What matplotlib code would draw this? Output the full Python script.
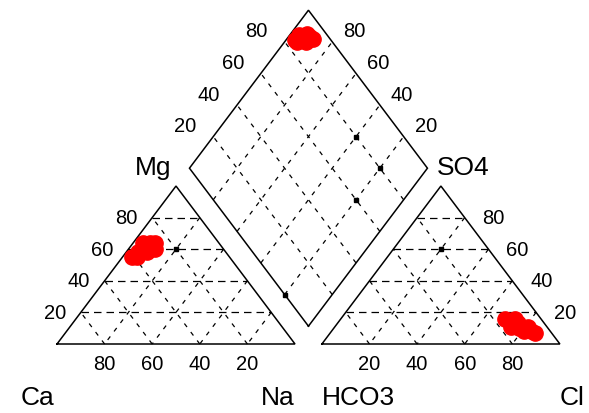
import numpy as np
import matplotlib
matplotlib.use("Agg")
import matplotlib.pyplot as plt

plt.rcParams['font.family'] = ['Liberation Sans', 'DejaVu Sans']

# cation shares (% meq) per sample
na = [4, 5, 7, 7, 9, 11, 9, 8, 4, 6]
mg = [55, 58, 60, 64, 64, 60, 58, 62, 64, 55]
ca = [100 - m - n for m, n in zip(mg, na)]
# anion shares (% meq) per sample
hco3 = [15, 15, 11, 8, 11, 7, 8, 11, 12, 12]
so4 = [16, 11, 13, 11, 8, 7, 8, 16, 15, 10]
cl = [69, 74, 76, 81, 81, 86, 84, 73, 73, 78]

grid_levels = [20, 40, 60, 80]
cation_labels = ["Ca", "Mg", "Na"]
anion_labels = ["HCO3", "SO4", "Cl"]

# heavy spots left where dashed grid lines overlap
overlap_cation = [(60, 20)]            # (Mg, Na)
overlap_anion = [(60, 20)]             # (SO4, Cl)
overlap_diamond = [(40, 80), (20, 80), (20, 60), (20, 0)]  # (Ca+Mg, SO4+Cl)

GAP = 0.113
H = np.sqrt(3) / 2


def cation_xy(mg_, na_):
    mg_, na_ = np.asarray(mg_, float), np.asarray(na_, float)
    return (na_ + mg_ / 2) / 100, H * mg_ / 100


def anion_xy(so4_, cl_):
    so4_, cl_ = np.asarray(so4_, float), np.asarray(cl_, float)
    return 1 + GAP + (cl_ + so4_ / 2) / 100, H * so4_ / 100


def diamond_xy(cx, cy, ax_, ay):
    t = (ax_ - cx) + (ay - cy) / (2 * H)
    return cx + 0.5 * t, cy + H * t


D_BOT = np.array([1 + GAP / 2, GAP * H])
D_LEFT = np.array([0.5 + GAP / 2, H + GAP * H])
D_TOP = np.array([1 + GAP / 2, 2 * H + GAP * H])
D_RIGHT = np.array([1.5 + GAP / 2, H + GAP * H])


def diamond_ab(a, b):
    a, b = a / 100, b / 100
    return D_BOT + a * (D_LEFT - D_BOT) + b * (D_RIGHT - D_BOT)


fig = plt.figure(figsize=(5.89, 4.14), dpi=100)
ax = fig.add_axes([0, 0, 1, 1])
ax.set_xlim(-57 / 238, 532 / 238)
ax.set_ylim(-69 / 182.4, 345 / 182.4)
ax.axis("off")

outline = dict(color="black", lw=1.1, solid_joinstyle="miter")
hdash = dict(color="black", lw=0.9, ls=(0, (6, 4)))
sdash = dict(color="black", lw=0.9, ls=(0, (3.5, 5)))


def draw_triangle(A, B, C):
    A, B, C = map(np.array, (A, B, C))
    pts = np.array([A, B, C, A])
    ax.plot(pts[:, 0], pts[:, 1], **outline)
    for v in grid_levels:
        f = v / 100
        for i, (P, Q, R) in enumerate(((A, B, C), (B, C, A), (C, A, B))):
            p1 = P + f * (R - P)
            p2 = Q + f * (R - Q)
            ax.plot([p1[0], p2[0]], [p1[1], p2[1]], **(hdash if i == 0 else sdash))


# left (cation) and right (anion) triangles
A1, B1, C1 = (0, 0), (1, 0), (0.5, H)
A2, B2, C2 = (1 + GAP, 0), (2 + GAP, 0), (1.5 + GAP, H)
draw_triangle(A1, B1, C1)
draw_triangle(A2, B2, C2)

# central diamond
dpts = np.array([D_BOT, D_LEFT, D_TOP, D_RIGHT, D_BOT])
ax.plot(dpts[:, 0], dpts[:, 1], **outline)
for v in grid_levels:
    p1, p2 = diamond_ab(v, 0), diamond_ab(v, 100)
    ax.plot([p1[0], p2[0]], [p1[1], p2[1]], **sdash)
    p1, p2 = diamond_ab(0, v), diamond_ab(100, v)
    ax.plot([p1[0], p2[0]], [p1[1], p2[1]], **sdash)

# overlap spots
ox, oy = cation_xy([m for m, _ in overlap_cation], [n for _, n in overlap_cation])
ax.plot(ox, oy, "ks", ms=2.6)
ox, oy = anion_xy([s for s, _ in overlap_anion], [c for _, c in overlap_anion])
ax.plot(ox, oy, "ks", ms=2.6)
for a, b in overlap_diamond:
    p = diamond_ab(a, b)
    ax.plot(p[0], p[1], "ks", ms=2.6)

# samples
cx, cy = cation_xy(mg, na)
axx, ayy = anion_xy(so4, cl)
dx, dy = diamond_xy(cx, cy, axx, ayy)
mk = dict(ls="none", marker="o", ms=11, color="red", mec="red")
ax.plot(cx, cy, **mk)
ax.plot(axx, ayy, **mk)
ax.plot(dx, dy, **mk)

# tick labels
num = dict(fontsize=14.5, ha="center", va="center")
px, py = 1 / 238, 1 / 182.4
for v in grid_levels:
    f = v / 100
    ax.text(1 - f, -20 * py, str(v), **num)                       # Ca
    ax.text(f / 2 - 26 * px, H * f, str(v), **num)                # Mg
    ax.text(1 + GAP + f, -20 * py, str(v), **num)                 # Cl
    ax.text(2 + GAP - f / 2 + 29 * px, H * f, str(v), **num)      # SO4
    p = D_LEFT + f * (D_TOP - D_LEFT)
    ax.text(p[0] - 28 * px, p[1] + 11 * py, str(v), **num)
    p = D_RIGHT + f * (D_TOP - D_RIGHT)
    ax.text(p[0] + 22 * px, p[1] + 11 * py, str(v), **num)

# component names
name = dict(fontsize=19, va="center")
ax.text(0 - 3 * px, -53 * py, cation_labels[0], ha="right", **name)
ax.text(1, -53 * py, cation_labels[2], ha="right", **name)
ax.text(0.5 - 5 * px, H + 19 * py, cation_labels[1], ha="right", **name)
ax.text(1 + GAP, -53 * py, anion_labels[0], ha="left", **name)
ax.text(2 + GAP, -53 * py, anion_labels[2], ha="left", **name)
ax.text(1.5 + GAP - 4 * px, H + 19 * py, anion_labels[1], ha="left", **name)

fig.savefig("out.png", dpi=100)
